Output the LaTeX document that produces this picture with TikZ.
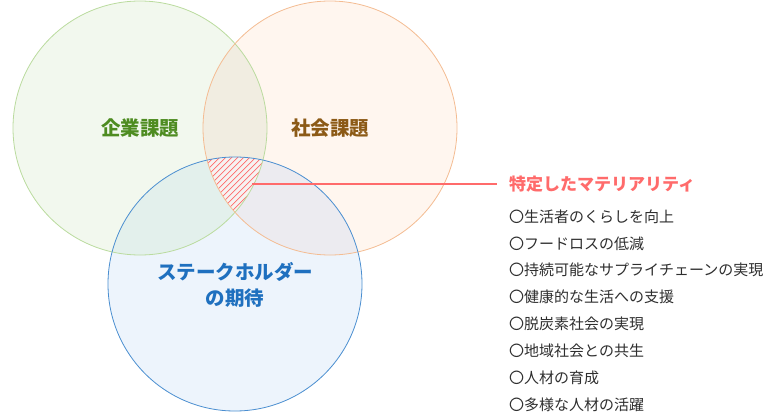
\documentclass[tikz,border=0pt]{standalone}
\usepackage{fontspec}
\setmainfont{Noto Sans CJK JP}
\usetikzlibrary{positioning}
\definecolor{kigyoFill}{HTML}{F2F8EE}
\definecolor{kigyoLine}{HTML}{BADB9E}
\definecolor{kigyoText}{HTML}{4E8C21}
\definecolor{shakaiFill}{HTML}{FFF6EF}
\definecolor{shakaiLine}{HTML}{F4BC92}
\definecolor{shakaiText}{HTML}{8C5A16}
\definecolor{holderFill}{HTML}{EDF4FC}
\definecolor{holderLine}{HTML}{4A8ED0}
\definecolor{holderText}{HTML}{1F70BF}
\definecolor{ksFill}{HTML}{F1EDE1}
\definecolor{khFill}{HTML}{E3F0EC}
\definecolor{shFill}{HTML}{ECEBF0}
\definecolor{triFill}{HTML}{F6F3F2}
\definecolor{matRed}{HTML}{FF6B6B}
\definecolor{listText}{HTML}{2E2E2E}

\begin{document}
\begin{tikzpicture}[x=1pt,y=-1pt,
  ring/.style={line width=0.8pt},
  hatch/.style={draw=matRed,line width=0.7pt},
  lead/.style={draw=matRed,line width=1.4pt},
  lab/.style={font=\fontsize{19.5}{26}\selectfont\bfseries,align=center,inner sep=0},
  ttl/.style={font=\fontsize{17}{20}\selectfont\bfseries,text=matRed,inner sep=0},
  item/.style={font=\fontsize{15}{18}\selectfont,text=listText,inner sep=0,anchor=west}]
\useasboundingbox (0,0) rectangle (770,412);

% ---- centres of the three circles
\coordinate (ck) at (140,128);
\coordinate (cs) at (330,128);
\coordinate (ch) at (235,284);

% ---- plain fills
\fill[kigyoFill] (ck) circle (127pt);
\fill[shakaiFill] (cs) circle (127pt);
\fill[holderFill] (ch) circle (127pt);

% ---- pairwise overlaps
\begin{scope}
  \clip (ck) circle (127pt);
  \fill[ksFill] (cs) circle (127pt);
  \fill[khFill] (ch) circle (127pt);
\end{scope}
\begin{scope}
  \clip (cs) circle (127pt);
  \fill[shFill] (ch) circle (127pt);
\end{scope}

% ---- the part shared by all three, hatched
\begin{scope}
  \clip (ck) circle (127pt);
  \clip (cs) circle (127pt);
  \clip (ch) circle (127pt);
  \fill[triFill] (190,140) rectangle (280,230);
  \foreach \d in {-90,-84,...,90}
    \draw[hatch] (235+\d-50,184+50) -- (235+\d+50,184-50);
\end{scope}

% ---- outlines
\draw[ring,kigyoLine] (ck) circle (127pt);
\draw[ring,shakaiLine] (cs) circle (127pt);
\draw[ring,holderLine] (ch) circle (127pt);

% ---- circle labels
\node[lab,text=kigyoText] (kigyo) at (140,128) {企業課題};
\node[lab,text=shakaiText] (shakai) at (330,128) {社会課題};
\node[lab,text=holderText] (holder) at (235,285) {ステークホルダー\\の期待};

% ---- materiality list
\coordinate (mat) at (252,184);
\node[ttl,anchor=west] (title) at (509,184) {特定したマテリアリティ};
\draw[lead] (mat) -- (title.west) [shorten >=12pt];
\foreach \t [count=\i] in {〇生活者のくらしを向上,〇フードロスの低減,
    〇持続可能なサプライチェーンの実現,〇健康的な生活への支援,
    〇脱炭素社会の実現,〇地域社会との共生,〇人材の育成,〇多様な人材の活躍}
  \node[item] (m\i) at (509,{216.5+26.9*(\i-1)}) {\t};
\end{tikzpicture}
\end{document}
